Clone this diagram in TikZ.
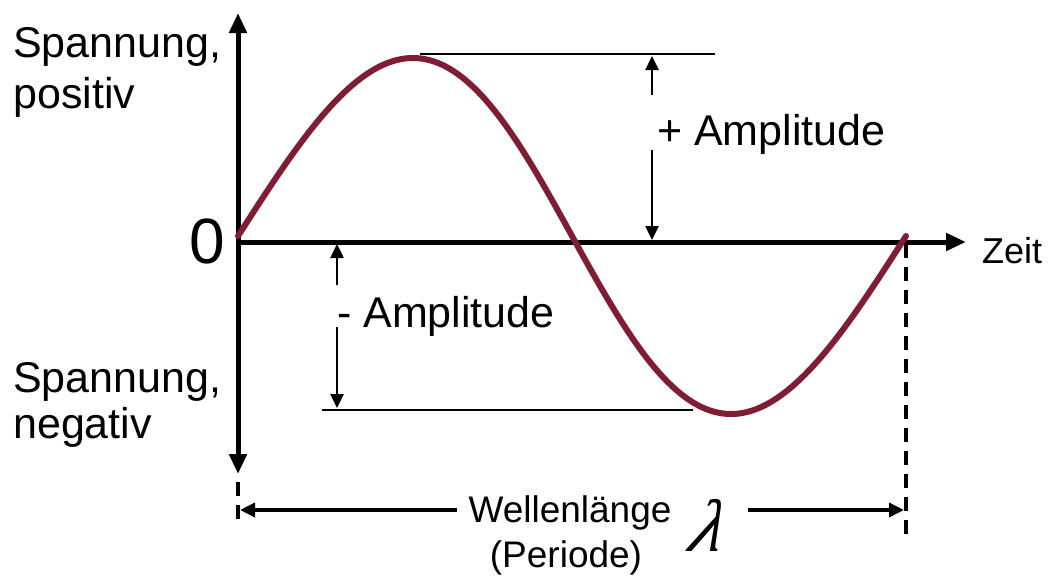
\documentclass[tikz,border=0pt]{standalone}
\usepackage{fontspec}
\setmainfont{Liberation Sans}
\newfontfamily\lamfont{Liberation Serif}
\usetikzlibrary{arrows.meta}
\definecolor{wave}{RGB}{128,28,52}
\begin{document}
\begin{tikzpicture}[x=1pt,y=-1pt,
  axis/.style={line width=5pt},
  bigtips/.style={{Triangle[length=20pt,width=17pt]}-{Triangle[length=20pt,width=17pt]}},
  bigtip/.style={-{Triangle[length=20pt,width=17pt]}},
  thinline/.style={line width=2.2pt},
  amparrow/.style={line width=2.5pt,-{Triangle[length=14pt,width=13pt]}},
  wlarrow/.style={line width=3.5pt,-{Triangle[length=15pt,width=14pt]}},
  dashedline/.style={line width=3.5pt,dash pattern=on 14pt off 9pt},
  lbl/.style={inner sep=0pt,font=\fontsize{43}{50}\selectfont},
  smalllbl/.style={inner sep=0pt,font=\fontsize{37}{44}\selectfont},
  wavepen/.style={line width=6pt,color=wave,line cap=round,line join=round},
]
\useasboundingbox (0,0) rectangle (1051,579);

% axes
\coordinate (O) at (238,242);
\coordinate (ytop) at (238,13);
\coordinate (ybot) at (238,474);
\coordinate (xend) at (966,242);
\draw[axis,bigtips] (ybot) -- (ytop);
\draw[axis,bigtip] (O) -- (xend);

% sine wave (slightly skewed like the hand-drawn original)
\draw[wavepen] plot[domain=0:360,samples=150,smooth] ({238+1.8556*\x+8*sin(\x)},{236-178*sin(\x)});

% + amplitude
\coordinate (pl) at (420,54);
\coordinate (pr) at (715,54);
\draw[thinline] (pl) -- (pr);
\coordinate (pa1) at (652,95);
\coordinate (pa1t) at (652,56);
\coordinate (pa2) at (652,150);
\coordinate (pa2t) at (652,240);
\draw[amparrow] (pa1) -- (pa1t);
\draw[amparrow] (pa2) -- (pa2t);
\node[lbl,anchor=base west] (plus) at (657,145) {+ Amplitude};

% - amplitude
\coordinate (nl) at (322,410);
\coordinate (nr) at (693,410);
\draw[thinline] (nl) -- (nr);
\coordinate (na1) at (337,285);
\coordinate (na1t) at (337,244);
\coordinate (na2) at (337,327);
\coordinate (na2t) at (337,408);
\draw[amparrow] (na1) -- (na1t);
\draw[amparrow] (na2) -- (na2t);
\node[lbl,anchor=base west] (minus) at (337,327) {- Amplitude};

% dashed verticals
\coordinate (dl1) at (238,482);
\coordinate (dl2) at (238,524);
\coordinate (dr1) at (906,244);
\coordinate (dr2) at (906,542);
\draw[dashedline] (dl1) -- (dl2);
\draw[dashedline] (dr1) -- (dr2);

% wavelength
\coordinate (wl0) at (457,510);
\coordinate (wl1) at (240,510);
\coordinate (wr0) at (748,510);
\coordinate (wr1) at (904,510);
\draw[wlarrow] (wl0) -- (wl1);
\draw[wlarrow] (wr0) -- (wr1);
\node[smalllbl,anchor=base] (wellen) at (570,522) {Wellenlänge};
\node[smalllbl,anchor=base] (periode) at (566,567) {(Periode)};
\node[inner sep=0pt,xslant=0.3,transform shape,font=\lamfont\itshape\fontsize{74}{74}\selectfont] (lam) at (711,525) {λ};

% labels left
\node[lbl,anchor=base west] (sp1) at (13,57) {Spannung,};
\node[lbl,anchor=base west] (sp2) at (13,108) {positiv};
\node[inner sep=0pt,anchor=base,font=\fontsize{64}{64}\selectfont] (zero) at (207,263) {0};
\node[lbl,anchor=base west] (sn1) at (13,392) {Spannung,};
\node[lbl,anchor=base west] (sn2) at (13,438) {negativ};

% Zeit
\node[inner sep=0pt,anchor=base west,font=\fontsize{36}{40}\selectfont] (zeit) at (982,263) {Zeit};
\end{tikzpicture}
\end{document}
